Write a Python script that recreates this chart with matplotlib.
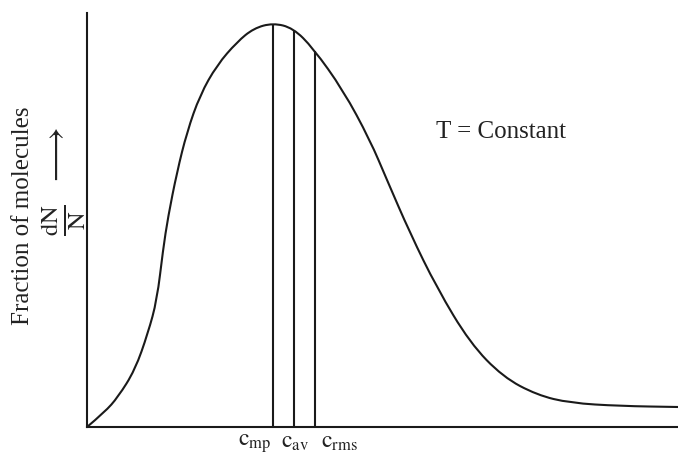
import matplotlib
matplotlib.use("Agg")
import matplotlib.pyplot as plt
import numpy as np
from matplotlib.path import Path
from matplotlib.patches import PathPatch

plt.rcParams['font.family'] = ['Liberation Serif', 'DejaVu Serif']
plt.rcParams['mathtext.fontset'] = 'stix'

# molecular speed (arbitrary units) and fraction dN/N
speed = [0.0, 3.0, 5.25, 8.12, 10.32, 11.84, 12.86, 13.71, 15.23, 16.92, 19.12,
         22.0, 25.38, 28.2, 31.47, 34.86, 38.24, 43.32, 47.88,
         50.76, 54.65, 59.22, 64.81, 70.39, 76.14, 81.73, 90.19, 100.0]
fraction = [0.0, 3.6, 7.25, 13.77, 22.71, 30.68, 42.75, 50.72, 61.59, 71.26, 80.19,
            87.44, 93.0, 96.3, 97.58, 96.38, 91.55, 81.4, 69.32,
            59.66, 46.86, 33.57, 20.29, 12.08, 7.73, 5.8, 5.07, 4.83]

c_names = [r'$\mathrm{c}_{\mathrm{mp}}$', r'$\mathrm{c}_{\mathrm{av}}$', r'$\mathrm{c}_{\mathrm{rms}}$']
c_values = [31.47, 35.0, 38.5]

W, H = 678, 454
fig = plt.figure(figsize=(W / 100, H / 100), dpi=100)
ax = fig.add_axes([87 / W, (H - 427) / H, (W - 87) / W, (427 - 13) / H])

# smooth curve: read points used as quadratic bezier controls
pts = np.column_stack([speed, fraction])
verts = [pts[0]]
codes = [Path.MOVETO]
for i in range(1, len(pts) - 1):
    verts += [pts[i], (pts[i] + pts[i + 1]) / 2]
    codes += [Path.CURVE3, Path.CURVE3]
verts.append(pts[-1])
codes.append(Path.LINETO)
curve = Path(verts, codes)
ax.add_patch(PathPatch(curve, fill=False, edgecolor='#1a1a1a', lw=1.5, clip_on=False))

flat = curve.to_polygons(closed_only=False)[0]
tops = np.interp(c_values, flat[:, 0], flat[:, 1])
ax.vlines(c_values, 0, tops, color='#1a1a1a', lw=1.5)

ax.set_xlim(0, 100)
ax.set_ylim(0, 100)
ax.set_xticks([])
ax.set_yticks([])
for s in ['top', 'right']:
    ax.spines[s].set_visible(False)
for s in ['left', 'bottom']:
    ax.spines[s].set_linewidth(1.5)
    ax.spines[s].set_color('#1a1a1a')

# speed labels under the axis
label_x = [271, 295, 339]
label_ha = ['right', 'center', 'center']
for name, px, ha in zip(c_names, label_x, label_ha):
    fig.text(px / W, 1 - 432 / H, name, ha=ha, va='top', fontsize=17, color='#222222')

fig.text(436 / W, 1 - 132 / H, 'T = Constant', ha='left', va='center', fontsize=18, color='#222222')

# y axis label
fig.text(23 / W, 1 - 216 / H, 'Fraction of molecules', rotation=90, ha='center', va='center',
         fontsize=18, color='#222222')
fig.text(64 / W, 1 - 220 / H, r'$\frac{\mathrm{dN}}{\mathrm{N}}$', rotation=90, ha='center', va='center',
         fontsize=25, color='#222222')
fig.text(56 / W, 1 - 157 / H, r'$\longrightarrow$', rotation=90, ha='center', va='center',
         fontsize=25, color='#222222')

fig.savefig('out.png', dpi=100)
